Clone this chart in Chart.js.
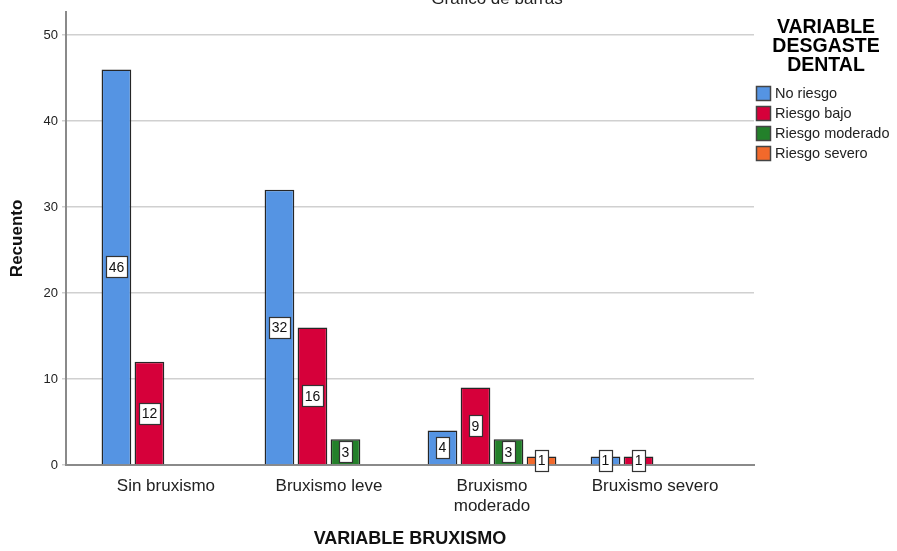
<!DOCTYPE html>
<html>
<head>
<meta charset="utf-8">
<script src="https://cdn.jsdelivr.net/npm/chart.js@4.4.0/dist/chart.umd.min.js"></script>
<style>
  body { margin: 0; background: #fff; }
  #c { display: block; }
</style>
</head>
<body>
<canvas id="c" width="897" height="551"></canvas>
<script>
// categorias del eje X (el tercero va en dos lineas como en el original)
const categories = ['Sin bruxismo', 'Bruxismo leve', ['Bruxismo', 'moderado'], 'Bruxismo severo']
const seriesNames = ['No riesgo', 'Riesgo bajo', 'Riesgo moderado', 'Riesgo severo']
const noRiesgo = [46, 32, 4, 1]
const riesgoBajo = [12, 16, 9, 1]
const riesgoModerado = [null, 3, 3, null]
const riesgoSevero = [null, null, 1, null]
const yTicks = [0, 10, 20, 30, 40, 50]

const colors = ['#5594e3', '#d6003a', '#23802a', '#f2692b']
const legendTitle = ['VARIABLE', 'DESGASTE', 'DENTAL']
const chartTitle = 'Gráfico de barras'

function toPoints(values) {
    return values.map((v, i) => ({ x: i, y: v }))
}

const datasets = [noRiesgo, riesgoBajo, riesgoModerado, riesgoSevero].map((vals, i) => ({
    label: seriesNames[i],
    data: toPoints(vals),
    backgroundColor: colors[i],
    borderColor: '#262626',
    borderWidth: 1.5,
    categoryPercentage: 0.81,
    barPercentage: 0.9
}))

// etiquetas blancas dentro de cada barra
const valueLabels = {
    id: 'valueLabels',
    afterDatasetsDraw(chart) {
        const ctx = chart.ctx
        ctx.save()
        ctx.font = '14px Arial, "Liberation Sans", sans-serif'
        ctx.textAlign = 'center'
        ctx.textBaseline = 'middle'
        chart.data.datasets.forEach((ds, di) => {
            const meta = chart.getDatasetMeta(di)
            meta.data.forEach((el, i) => {
                const v = ds.data[i].y
                if (v === null || v === undefined) return
                const txt = String(v)
                const w = Math.round(ctx.measureText(txt).width + 5)
                const h = 21
                const cx = el.x
                const cy = (el.y + el.base) / 2
                const x0 = Math.round(cx - w / 2) + 0.5
                const y0 = Math.round(cy - h / 2) + 0.5
                ctx.fillStyle = '#fff'
                ctx.fillRect(x0, y0, w, h)
                ctx.strokeStyle = '#333'
                ctx.lineWidth = 1.2
                ctx.strokeRect(x0, y0, w, h)
                ctx.fillStyle = '#111'
                ctx.fillText(txt, cx, cy + 1)
            })
        })
        ctx.restore()
    }
}

// leyenda al estilo SPSS y titulo recortado arriba
const spssLegend = {
    id: 'spssLegend',
    afterDraw(chart) {
        const ctx = chart.ctx
        ctx.save()
        ctx.fillStyle = '#222'
        ctx.textAlign = 'center'
        ctx.textBaseline = 'alphabetic'
        ctx.font = '17px Arial, "Liberation Sans", sans-serif'
        ctx.fillText(chartTitle, 497, 4)

        ctx.font = 'bold 19.5px Arial, "Liberation Sans", sans-serif'
        ctx.textBaseline = 'middle'
        ctx.fillStyle = '#000'
        legendTitle.forEach((t, i) => ctx.fillText(t, 826, 28 + i * 19))

        ctx.textAlign = 'left'
        ctx.font = '14.5px Arial, "Liberation Sans", sans-serif'
        chart.data.datasets.forEach((ds, i) => {
            const y = 87 + i * 20
            ctx.fillStyle = ds.backgroundColor
            ctx.fillRect(757, y, 13, 13)
            ctx.strokeStyle = '#444'
            ctx.lineWidth = 1.5
            ctx.strokeRect(756.5, y - 0.5, 14, 14)
            ctx.fillStyle = '#222'
            ctx.fillText(ds.label, 775, y + 7)
        })
        ctx.restore()
    }
}

new Chart(document.getElementById('c'), {
    type: 'bar',
    data: { datasets: datasets },
    options: {
        responsive: false,
        animation: false,
        layout: { padding: { top: 10, right: 143, left: 0, bottom: 0 } },
        plugins: {
            legend: { display: false },
            tooltip: { enabled: false }
        },
        scales: {
            x: {
                type: 'linear',
                offset: false,
                min: -0.613,
                max: 3.607,
                afterBuildTicks: (s) => { s.ticks = categories.map((c, i) => ({ value: i })) },
                afterFit: (s) => { s.height = 86 },
                grid: { display: false, drawTicks: false, offset: false },
                border: { display: true, color: '#8a8a8a', width: 2 },
                ticks: {
                    autoSkip: false,
                    maxRotation: 0,
                    padding: 11,
                    color: '#222',
                    font: { family: 'Arial, "Liberation Sans", sans-serif', size: 17 },
                    callback: (v) => categories[v]
                },
                title: {
                    display: true,
                    text: 'VARIABLE BRUXISMO',
                    color: '#111',
                    padding: { top: 0, bottom: 1 },
                    font: { family: 'Arial, "Liberation Sans", sans-serif', size: 18, weight: 'bold' }
                }
            },
            y: {
                min: 0,
                max: 52.7,
                afterBuildTicks: (s) => { s.ticks = yTicks.map(v => ({ value: v })) },
                afterFit: (s) => { s.width = 66 },
                grid: { color: '#d0d0d0', lineWidth: 1.5, tickLength: 4 },
                border: { display: true, color: '#8a8a8a', width: 2 },
                ticks: {
                    padding: 4,
                    color: '#222',
                    font: { family: 'Arial, "Liberation Sans", sans-serif', size: 13 }
                },
                title: {
                    display: true,
                    text: 'Recuento',
                    color: '#111',
                    padding: { top: 7, bottom: 0 },
                    font: { family: 'Arial, "Liberation Sans", sans-serif', size: 17, weight: 'bold' }
                }
            }
        }
    },
    plugins: [valueLabels, spssLegend]
})
</script>
</body>
</html>
